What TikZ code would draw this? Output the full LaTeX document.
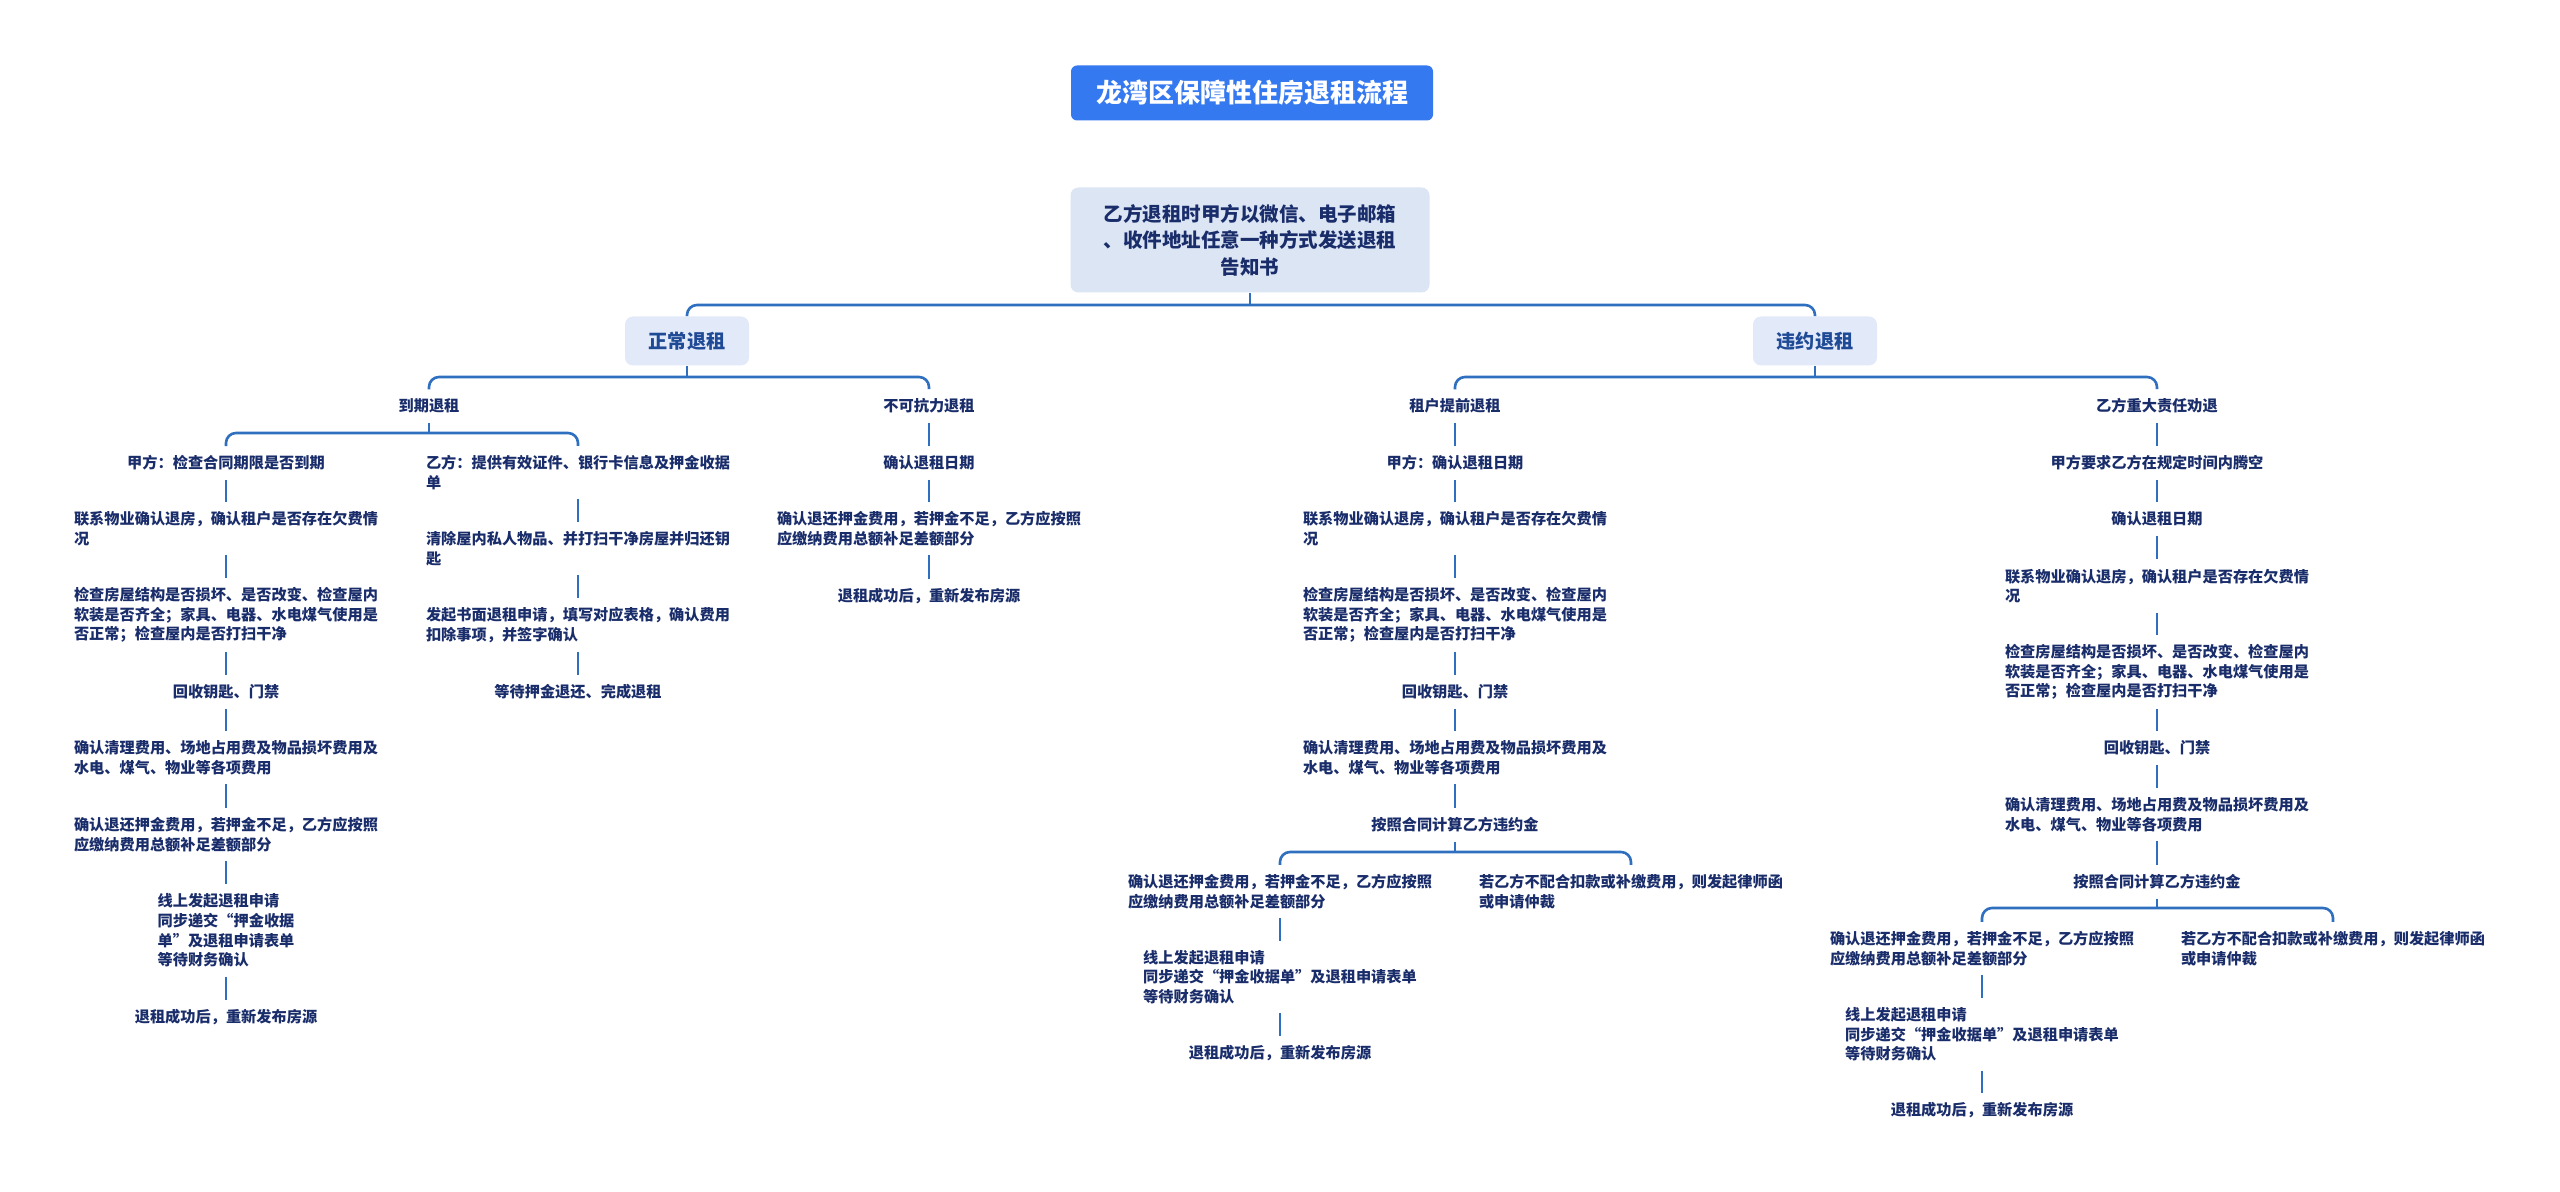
\documentclass[tikz,border=0pt]{standalone}
\usepackage{fontspec}
\setmainfont{Noto Sans CJK SC}
\XeTeXlinebreaklocale "zh"

\definecolor{titleblue}{HTML}{3579F0}
\definecolor{rootfill}{HTML}{DCE5F4}
\definecolor{catfill}{HTML}{E2EAFA}
\definecolor{inkblue}{HTML}{1A2D6B}
\definecolor{catblue}{HTML}{1F4A96}
\definecolor{linkblue}{HTML}{2F6FC0}

\tikzset{
  titlebox/.style={fill=titleblue, text=white, rounded corners=3pt,
    minimum width=181pt, minimum height=27.5pt,
    font=\fontsize{13pt}{15pt}\selectfont\bfseries},
  rootbox/.style={fill=rootfill, text=inkblue, rounded corners=4pt, align=center,
    minimum width=179.5pt, minimum height=52.5pt,
    font=\fontsize{9.75pt}{13.25pt}\selectfont\bfseries},
  catbox/.style={fill=catfill, text=catblue, rounded corners=4pt,
    minimum width=62pt, minimum height=24.5pt,
    font=\fontsize{9.6pt}{11pt}\selectfont\bfseries},
  item/.style={text=inkblue, align=left, inner xsep=0pt, inner ysep=4.5pt,
    font=\fontsize{7.6pt}{9.8pt}\selectfont\bfseries},
  link/.style={draw=linkblue, line width=1.3pt},
  bus/.style={link, rounded corners=5pt}
}

\begin{document}
\begin{tikzpicture}[x=0.5pt,y=-0.5pt]
  \useasboundingbox[fill=white] (0,0) rectangle (2560,1192);

  % Title and root
  \node[titlebox] (title) at (1252,93) {龙湾区保障性住房退租流程};
  \node[rootbox] (root) at (1250,240) {乙方退租时甲方以微信、电子邮箱\\、收件地址任意一种方式发送退租\\告知书};

  % Two kinds of move-out
  \node[catbox] (normal) at (687,341) {正常退租};
  \node[catbox] (breach) at (1815,341) {违约退租};

  \coordinate (bus0) at (0,305);
  \draw[link] (root.south) -- (root.south |- bus0);
  \draw[bus] (normal.north) -- (normal.north |- bus0) -- (breach.north |- bus0) -- (breach.north);

  % Normal move-out: branches
  \node[item] (expire) at (429,406) {到期退租};
  \node[item] (force) at (929,406) {不可抗力退租};
  \coordinate (bus1) at (0,377);
  \draw[link] (normal.south) -- (normal.south |- bus1);
  \draw[bus] (expire.north) -- (expire.north |- bus1) -- (force.north |- bus1) -- (force.north);

  % Expiry: landlord side
  \node[item] (pa1) at (226,463) {甲方：检查合同期限是否到期};
  \node[item] (pa2) at (226,528.5) {联系物业确认退房，确认租户是否存在欠费情\\况};
  \node[item] (pa3) at (226,615) {检查房屋结构是否损坏、是否改变、检查屋内\\软装是否齐全；家具、电器、水电煤气使用是\\否正常；检查屋内是否打扫干净};
  \node[item] (pa4) at (226,692) {回收钥匙、门禁};
  \node[item] (pa5) at (226,757.5) {确认清理费用、场地占用费及物品损坏费用及\\水电、煤气、物业等各项费用};
  \node[item] (pa6) at (226,834.5) {确认退还押金费用，若押金不足，乙方应按照\\应缴纳费用总额补足差额部分};
  \node[item] (pa7) at (226,930.5) {线上发起退租申请\\同步递交“押金收据\\单”及退租申请表单\\等待财务确认};
  \node[item] (pa8) at (226,1017) {退租成功后，重新发布房源};

  % Expiry: tenant side
  \node[item] (pb1) at (578,472.5) {乙方：提供有效证件、银行卡信息及押金收据\\单};
  \node[item] (pb2) at (578,548.5) {清除屋内私人物品、并打扫干净房屋并归还钥\\匙};
  \node[item] (pb3) at (578,625) {发起书面退租申请，填写对应表格，确认费用\\扣除事项，并签字确认};
  \node[item] (pb4) at (578,692) {等待押金退还、完成退租};

  \coordinate (bus2) at (0,433);
  \draw[link] (expire.south) -- (expire.south |- bus2);
  \draw[bus] (pa1.north) -- (pa1.north |- bus2) -- (pb1.north |- bus2) -- (pb1.north);
  \foreach \a/\b in {pa1/pa2,pa2/pa3,pa3/pa4,pa4/pa5,pa5/pa6,pa6/pa7,pa7/pa8,
                     pb1/pb2,pb2/pb3,pb3/pb4}
    \draw[link] (\a) -- (\b);

  % Force majeure
  \node[item] (fc1) at (929,463) {确认退租日期};
  \node[item] (fc2) at (929,528.5) {确认退还押金费用，若押金不足，乙方应按照\\应缴纳费用总额补足差额部分};
  \node[item] (fc3) at (929,596) {退租成功后，重新发布房源};
  \foreach \a/\b in {force/fc1,fc1/fc2,fc2/fc3}
    \draw[link] (\a) -- (\b);

  % Breach move-out: branches
  \node[item] (early) at (1455,406) {租户提前退租};
  \node[item] (major) at (2157,406) {乙方重大责任劝退};
  \draw[link] (breach.south) -- (breach.south |- bus1);
  \draw[bus] (early.north) -- (early.north |- bus1) -- (major.north |- bus1) -- (major.north);

  % Early termination by tenant
  \node[item] (er1) at (1455,463) {甲方：确认退租日期};
  \node[item] (er2) at (1455,528.5) {联系物业确认退房，确认租户是否存在欠费情\\况};
  \node[item] (er3) at (1455,615) {检查房屋结构是否损坏、是否改变、检查屋内\\软装是否齐全；家具、电器、水电煤气使用是\\否正常；检查屋内是否打扫干净};
  \node[item] (er4) at (1455,692) {回收钥匙、门禁};
  \node[item] (er5) at (1455,757.5) {确认清理费用、场地占用费及物品损坏费用及\\水电、煤气、物业等各项费用};
  \node[item] (er6) at (1455,825) {按照合同计算乙方违约金};
  \node[item] (er7) at (1280,891.5) {确认退还押金费用，若押金不足，乙方应按照\\应缴纳费用总额补足差额部分};
  \node[item] (er8) at (1631,891.5) {若乙方不配合扣款或补缴费用，则发起律师函\\或申请仲裁};
  \node[item] (er9) at (1280,977) {线上发起退租申请\\同步递交“押金收据单”及退租申请表单\\等待财务确认};
  \node[item] (er10) at (1280,1053) {退租成功后，重新发布房源};
  \foreach \a/\b in {early/er1,er1/er2,er2/er3,er3/er4,er4/er5,er5/er6,er7/er9,er9/er10}
    \draw[link] (\a) -- (\b);
  \coordinate (bus3) at (0,852);
  \draw[link] (er6.south) -- (er6.south |- bus3);
  \draw[bus] (er7.north) -- (er7.north |- bus3) -- (er8.north |- bus3) -- (er8.north);

  % Serious fault of tenant
  \node[item] (mj1) at (2157,463) {甲方要求乙方在规定时间内腾空};
  \node[item] (mj2) at (2157,519) {确认退租日期};
  \node[item] (mj3) at (2157,586) {联系物业确认退房，确认租户是否存在欠费情\\况};
  \node[item] (mj4) at (2157,672) {检查房屋结构是否损坏、是否改变、检查屋内\\软装是否齐全；家具、电器、水电煤气使用是\\否正常；检查屋内是否打扫干净};
  \node[item] (mj5) at (2157,748) {回收钥匙、门禁};
  \node[item] (mj6) at (2157,814.5) {确认清理费用、场地占用费及物品损坏费用及\\水电、煤气、物业等各项费用};
  \node[item] (mj7) at (2157,882) {按照合同计算乙方违约金};
  \node[item] (mj8) at (1982,948.5) {确认退还押金费用，若押金不足，乙方应按照\\应缴纳费用总额补足差额部分};
  \node[item] (mj9) at (2333,948.5) {若乙方不配合扣款或补缴费用，则发起律师函\\或申请仲裁};
  \node[item] (mj10) at (1982,1034.5) {线上发起退租申请\\同步递交“押金收据单”及退租申请表单\\等待财务确认};
  \node[item] (mj11) at (1982,1110) {退租成功后，重新发布房源};
  \foreach \a/\b in {major/mj1,mj1/mj2,mj2/mj3,mj3/mj4,mj4/mj5,mj5/mj6,mj6/mj7,mj8/mj10,mj10/mj11}
    \draw[link] (\a) -- (\b);
  \coordinate (bus4) at (0,908);
  \draw[link] (mj7.south) -- (mj7.south |- bus4);
  \draw[bus] (mj8.north) -- (mj8.north |- bus4) -- (mj9.north |- bus4) -- (mj9.north);
\end{tikzpicture}
\end{document}
